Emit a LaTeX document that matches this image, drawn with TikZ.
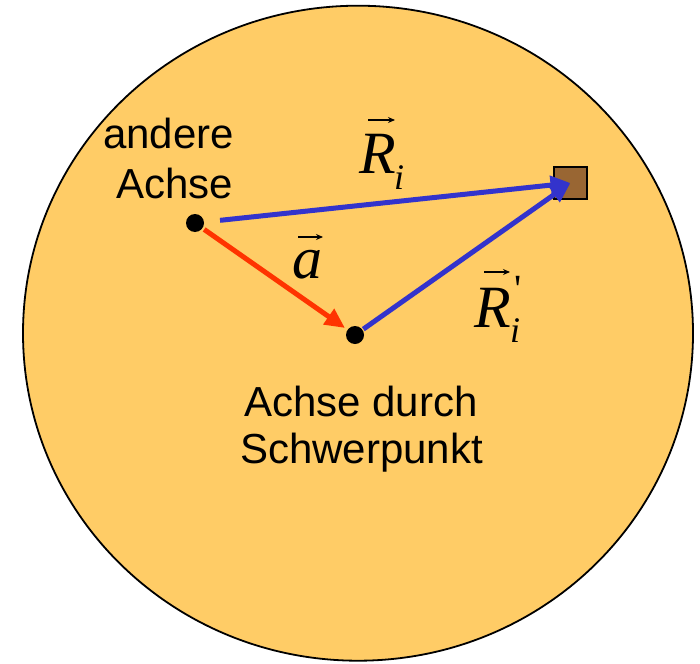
\documentclass[tikz,border=0pt]{standalone}
\usepackage{fontspec}
\setmainfont{Liberation Sans}
\newfontfamily\tnr{Liberation Serif}
\usetikzlibrary{arrows.meta}
\definecolor{disk}{HTML}{FFCC66}
\definecolor{vblue}{HTML}{3333CC}
\definecolor{vred}{HTML}{FF3300}
\definecolor{mass}{HTML}{996633}
\tikzset{
  dotnode/.style={circle, fill=black, minimum size=18pt, inner sep=0pt},
  massnode/.style={draw=black, fill=mass, line width=1.5pt, minimum width=33pt, minimum height=32pt, inner sep=0pt},
  bigvec/.style={line width=5pt, -{Triangle[length=20pt,width=18pt]}},
  txt/.style={inner sep=0pt, font=\fontsize{42}{48}\selectfont},
  mathbig/.style={inner sep=0pt, anchor=base west, font=\tnr\itshape\fontsize{60}{60}\selectfont},
  mathsub/.style={inner sep=0pt, anchor=base west, font=\tnr\itshape\fontsize{36}{36}\selectfont},
  vecmark/.style={line width=1.3pt, -{Stealth[length=7pt,width=6pt]}}
}
\begin{document}
\begin{tikzpicture}[x=1pt,y=-1pt]
\useasboundingbox (0,0) rectangle (700,663);
% disk
\draw[fill=disk, line width=1.8pt] (358,333.2) ellipse [x radius=335, y radius=327.5];
% mass element
\node[massnode] (M) at (570.5,183) {};
% axes
\node[dotnode] (A) at (195,223) {};
\node[dotnode] (S) at (355,335) {};
% vectors
\draw[bigvec, vblue, shorten <=16pt] (A) -- (M.center);
\draw[bigvec, vblue, shorten <=1pt] (S) -- (M.center);
\draw[bigvec, vred, shorten <=2pt, shorten >=3pt] (A) -- (S);
% text labels
\node[txt, anchor=base east] (t1) at (234,149) {andere};
\node[txt, anchor=base east] (t2) at (233,198) {Achse};
\node[txt, anchor=base] (t3) at (361,416) {Achse durch};
\node[txt, anchor=base] (t4) at (361.5,463) {Schwerpunkt};
% R_i
\node[mathbig] (R1) at (359,173) {R};
\node[mathsub] (i1) at (394,189) {i};
\draw[vecmark] (368,120) -- (395,120);
% R_i'
\node[mathbig] (R2) at (474,327) {R};
\node[mathsub] (i2) at (510,342) {i};
\node[inner sep=0pt, anchor=base west, font=\tnr\fontsize{40}{40}\selectfont] (p2) at (514,302) {\symbol{39}};
\draw[vecmark] (484,272) -- (510,272);
% a
\node[mathbig] (a1) at (292,278) {a};
\draw[vecmark] (298,237) -- (323,237);
\end{tikzpicture}
\end{document}
